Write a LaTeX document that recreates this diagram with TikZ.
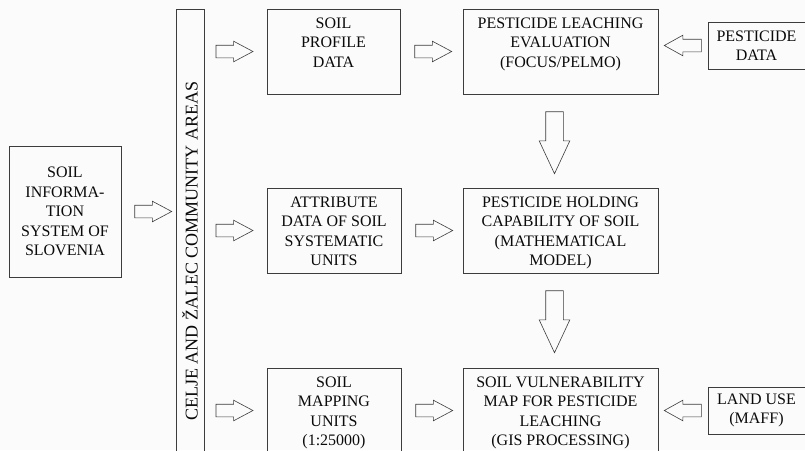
\documentclass[tikz,border=0pt]{standalone}
\usepackage{fontspec}
\setmainfont{Liberation Serif}
\usetikzlibrary{positioning,shapes.arrows}

\definecolor{linegray}{HTML}{3C3C3C}
\definecolor{txtgray}{HTML}{0A0A0A}
\definecolor{paper}{HTML}{FBFBFB}

\tikzset{
	box/.style={draw=linegray, line width=0.8pt, text=txtgray, align=center, inner sep=0pt,
		font=\fontsize{16}{19.5}\selectfont},
	tallbox/.style={box, minimum height=85pt},
	lbl/.style={text=txtgray, align=center, inner sep=0pt, font=\fontsize{16}{19.5}\selectfont},
	rarr/.style={single arrow, draw=linegray, line width=0.6pt, inner sep=6pt,
		minimum height=37pt, minimum width=20pt, single arrow head extend=4pt, single arrow tip angle=56},
	larr/.style={rarr, shape border rotate=180, single arrow tip angle=58},
	darr/.style={rarr, shape border rotate=270, inner sep=8.5pt, minimum height=62pt, minimum width=30pt,
		single arrow head extend=6.5pt, single arrow tip angle=50},
}

\begin{document}
\begin{tikzpicture}[x=1pt,y=-1pt]
		\fill[paper] (0,0) rectangle (805,450);
		\useasboundingbox (0,0) rectangle (805,450);
		\clip (0,0) rectangle (805,450);

		\node[box, minimum width=112pt, minimum height=131pt] (sis) at (65,211.5)
			{SOIL\\INFORMA-\\TION\\SYSTEM OF\\SLOVENIA};
		\node[box, rotate=90, minimum width=484pt, minimum height=28pt,
			font=\fontsize{18}{20}\selectfont] (bar) at (190,251)
			{CELJE AND ŽALEC COMMUNITY AREAS};

		\node[tallbox, minimum width=133pt] (prof) at (333.5,51.5) {};
		\node[tallbox, minimum width=134pt] (attr) at (334,230.5) {};
		\node[tallbox, minimum width=134pt] (map) at (334,410.5) {};
		\node[tallbox, minimum width=195pt] (leach) at (560.5,51.5) {};
		\node[tallbox, minimum width=195pt] (hold) at (560.5,230.5) {};
		\node[tallbox, minimum width=195pt] (vuln) at (560.5,410.5) {};

		\node[lbl, below=9pt of prof.north] (proftxt) {SOIL\\PROFILE\\DATA};
		\node[lbl, below=9pt of attr.north] (attrtxt) {ATTRIBUTE\\DATA OF SOIL\\SYSTEMATIC\\UNITS};
		\node[lbl, below=9pt of map.north] (maptxt) {SOIL\\MAPPING\\UNITS\\(1:25000)};
		\node[lbl, below=9pt of leach.north] (leachtxt) {PESTICIDE LEACHING\\EVALUATION\\(FOCUS/PELMO)};
		\node[lbl, below=9pt of hold.north] (holdtxt) {PESTICIDE HOLDING\\CAPABILITY OF SOIL\\(MATHEMATICAL\\MODEL)};
		\node[lbl, below=9pt of vuln.north] (vulntxt) {SOIL VULNERABILITY\\MAP FOR PESTICIDE\\LEACHING\\(GIS PROCESSING)};

		\node[box, minimum width=97pt, minimum height=47pt] (pdat) at (756.5,45.5) {PESTICIDE\\DATA};
		\node[box, minimum width=97pt, minimum height=47pt] (luse) at (756.5,410.5) {LAND USE\\(MAFF)};

		\node[rarr, right=13pt of sis, anchor=tail] (sisbar) {};
		\foreach \n in {prof,attr,map}
			\node[rarr, left=13pt of \n, anchor=tip] (bar\n) {};
		\foreach \a/\b in {prof/leach,attr/hold,map/vuln}
			\node[rarr, right=14pt of \a, anchor=tail] (\a\b) {};

		\node[larr, left=6pt of pdat, anchor=tail] (pdatleach) {};
		\node[larr, left=6pt of luse, anchor=tail] (lusevuln) {};

		\node[darr, below=17pt of leach, anchor=tail, xshift=-6pt] (leachhold) {};
		\node[darr, below=17pt of hold, anchor=tail, xshift=-6pt] (holdvuln) {};
\end{tikzpicture}
\end{document}
